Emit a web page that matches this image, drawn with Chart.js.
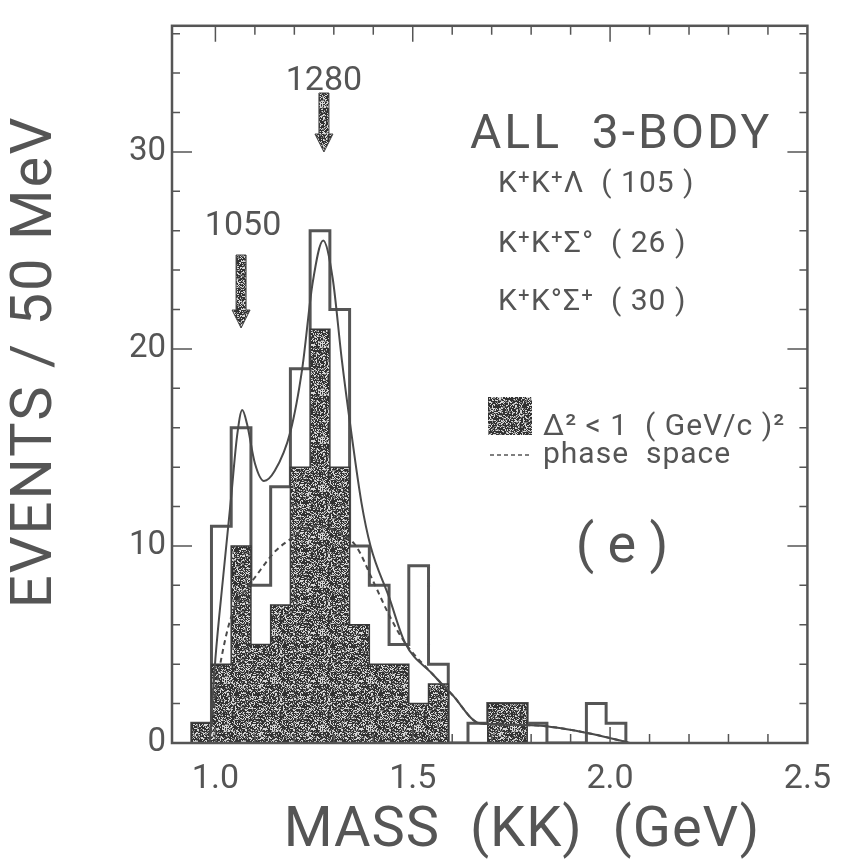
<!DOCTYPE html>
<html>
<head>
<meta charset="utf-8">
<script src="https://cdn.jsdelivr.net/npm/chart.js@4.4.1/dist/chart.umd.min.js"></script>
<style>
  html, body { margin: 0; padding: 0; background: #fff; }
  #wrap { width: 847px; height: 859px; }
</style>
</head>
<body>
<div id="wrap"><canvas id="massChart" width="847" height="859"></canvas></div>
<script>
// 50 MeV bins: lower edges, last entry is the upper edge of the last bin (GeV)
const massEdges = [0.94, 0.99, 1.04, 1.09, 1.14, 1.19, 1.24, 1.29, 1.34, 1.39, 1.44,
                   1.49, 1.54, 1.59, 1.64, 1.69, 1.74, 1.79, 1.84, 1.89, 1.94, 1.99, 2.04];
// all 3-body events (open histogram)
const allEvents = [1, 11, 16, 8, 13, 19, 26, 22, 10, 8, 5, 9, 4, 0, 1, 2, 2, 1, 0, 0, 2, 1];
// delta^2 < 1 (GeV/c)^2 (shaded histogram)
const lowDeltaEvents = [1, 4, 10, 5, 7, 14, 21, 14, 6, 4, 4, 2, 3, 0, 0, 2, 2, 0, 0, 0, 0, 0];

// fitted curve (solid)
const fitMass   = [0.985, 1.0, 1.02, 1.04, 1.055, 1.068, 1.08, 1.10, 1.123, 1.15, 1.19, 1.22, 1.246,
                   1.273, 1.297, 1.32, 1.344, 1.37, 1.393, 1.44, 1.48, 1.55, 1.60, 1.67, 1.80, 1.945, 2.05];
const fitEvents = [0, 4.3, 8.5, 12.5, 15.6, 16.9, 16.2, 14.2, 13.3, 13.8, 15.8, 19.0, 23.3,
                   25.5, 23.6, 19.5, 15.8, 12.2, 10.0, 7.4, 5.1, 3.5, 2.45, 1.0, 0.9, 0.5, 0];

// phase space (dashed)
const psMass   = [0.985, 1.0, 1.02, 1.04, 1.07, 1.10, 1.15, 1.18, 1.25, 1.30, 1.356, 1.40, 1.44,
                  1.48, 1.55, 1.60, 1.67, 1.80, 1.945, 2.05];
const psEvents = [0, 2.5, 4.8, 6.4, 7.6, 8.4, 9.7, 10.2, 11.0, 10.8, 10.0, 8.2, 6.5,
                  5.1, 3.5, 2.45, 1.0, 0.9, 0.5, 0];

// axis ticks
const xTickLabels = [1.0, 1.5, 2.0, 2.5];
const yTickLabels = [0, 10, 20, 30];
const xMinorTicks = [1.0, 1.1, 1.2, 1.3, 1.4, 1.5, 1.6, 1.7, 1.8, 1.9, 2.0, 2.1, 2.2, 2.3, 2.4];
const yMinorTicks = [2, 4, 6, 8, 10, 12, 14, 16, 18, 20, 22, 24, 26, 28, 30, 32, 34, 36];

// resonance markers
const peakMass  = [1.065, 1.275];
const peakNames = ['1050', '1280'];

const FONT = "Roboto, 'DejaVu Sans', sans-serif";
const INK = '#555';

// stepped histogram outline points from the bin edges
function histPoints(values) {
    const pts = [{ x: massEdges[0], y: 0 }];
    values.forEach((v, i) => pts.push({ x: massEdges[i], y: v }));
    pts.push({ x: massEdges[values.length], y: 0 });
    return pts;
}

function curvePoints(xs, ys) {
    return xs.map((m, i) => ({ x: m, y: ys[i] }));
}

// grainy grey fill like the printed shading
const canvas = document.getElementById('massChart');
const ctx = canvas.getContext('2d');
function stipple() {
    const c = document.createElement('canvas');
    c.width = c.height = 48;
    const g = c.getContext('2d');
    const img = g.createImageData(48, 48);
    let s = 12345;
    for (let i = 0; i < 48 * 48; i++) {
        s = (s * 1103515245 + 12345) & 0x7fffffff;
        const r = (s >> 8) % 100;
        const v = r < 26 ? 215 : (r < 44 ? 130 : 50);
        img.data[i * 4] = v; img.data[i * 4 + 1] = v; img.data[i * 4 + 2] = v; img.data[i * 4 + 3] = 255;
    }
    g.putImageData(img, 0, 0);
    return ctx.createPattern(c, 'repeat');
}
const shade = stipple();

function arrow(c, x, y0, y1) {
    c.save();
    c.fillStyle = shade;
    c.strokeStyle = '#444';
    c.lineWidth = 1;
    c.beginPath();
    c.moveTo(x - 5, y0);
    c.lineTo(x + 5, y0);
    c.lineTo(x + 5, y1 - 18);
    c.lineTo(x + 9, y1 - 18);
    c.lineTo(x, y1);
    c.lineTo(x - 9, y1 - 18);
    c.lineTo(x - 5, y1 - 18);
    c.closePath();
    c.fill();
    c.stroke();
    c.restore();
}

const decorations = {
    id: 'decorations',
    afterDatasetsDraw(chart) {
        const { ctx: c, chartArea: a, scales: { x, y } } = chart;
        c.save();
        // frame
        c.strokeStyle = '#555';
        c.lineWidth = 2.5;
        c.strokeRect(a.left, a.top, a.right - a.left, a.bottom - a.top);
        // inward ticks
        c.lineWidth = 1.5;
        c.beginPath();
        yMinorTicks.forEach(v => {
            const py = y.getPixelForValue(v);
            const len = v % 10 === 0 ? 20 : 8;
            c.moveTo(a.left, py); c.lineTo(a.left + len, py);
            c.moveTo(a.right, py); c.lineTo(a.right - len, py);
        });
        xMinorTicks.forEach(v => {
            const px = x.getPixelForValue(v);
            const major = Math.abs(v * 2 - Math.round(v * 2)) < 1e-6;
            c.moveTo(px, a.top); c.lineTo(px, a.top + (major ? 16 : 9));
            c.moveTo(px, a.bottom); c.lineTo(px, a.bottom - (major ? 16 : 9));
        });
        c.stroke();

        c.fillStyle = INK;
        c.textBaseline = 'alphabetic';
        // resonance arrows
        c.textAlign = 'center';
        c.font = `34px ${FONT}`;
        c.fillText(peakNames[1], x.getPixelForValue(peakMass[1]), 90);
        arrow(c, x.getPixelForValue(peakMass[1]), 93, 152);
        c.fillStyle = INK;
        c.fillText(peakNames[0], x.getPixelForValue(peakMass[0]) + 2, 235);
        arrow(c, x.getPixelForValue(peakMass[0]), 255, 328);

        // title block
        c.fillStyle = INK;
        c.textAlign = 'left';
        c.font = `48px ${FONT}`;
        c.letterSpacing = '3px';
        c.fillText('ALL  3-BODY', 470, 148);
        c.letterSpacing = '1px';
        c.font = `30px ${FONT}`;
        c.fillText('K\u207AK\u207A\u039B  ( 105 )', 498, 192);
        c.fillText('K\u207AK\u207A\u03A3\u00B0  ( 26 )', 498, 252);
        c.fillText('K\u207AK\u00B0\u03A3\u207A  ( 30 )', 498, 310);

        // legend
        c.fillStyle = shade;
        c.fillRect(488, 397, 44, 38);
        c.fillStyle = INK;
        c.fillText('\u0394\u00B2 < 1  ( GeV/c )\u00B2', 543, 435);
        c.strokeStyle = '#555';
        c.lineWidth = 1.5;
        c.setLineDash([4, 3]);
        c.beginPath();
        c.moveTo(490, 455); c.lineTo(530, 455);
        c.stroke();
        c.setLineDash([]);
        c.fillText('phase  space', 543, 463);

        c.letterSpacing = '0px';
        c.font = `54px ${FONT}`;
        c.textAlign = 'center';
        c.fillText('( e )', 622, 562);

        // axis titles
        c.textBaseline = 'middle';
        c.font = `56px ${FONT}`;
        c.letterSpacing = '1px';
        c.fillText('MASS  (KK)  (GeV)', 522, 832);
        c.translate(36, 362);
        c.rotate(-Math.PI / 2);
        c.font = `58px ${FONT}`;
        c.letterSpacing = '2px';
        c.fillText('EVENTS / 50 MeV', 0, 0);
        c.restore();
    }
};

new Chart(ctx, {
    type: 'line',
    data: {
        datasets: [
            {
                label: 'fit',
                data: curvePoints(fitMass, fitEvents),
                borderColor: '#4a4a4a',
                borderWidth: 2,
                cubicInterpolationMode: 'monotone',
                pointRadius: 0,
                fill: false
            },
            {
                label: 'phase space',
                data: curvePoints(psMass, psEvents),
                borderColor: '#4a4a4a',
                borderWidth: 2,
                borderDash: [5, 4],
                cubicInterpolationMode: 'monotone',
                pointRadius: 0,
                fill: false
            },
            {
                label: '\u0394\u00B2 < 1 (GeV/c)\u00B2',
                data: histPoints(lowDeltaEvents),
                stepped: 'before',
                borderColor: '#3a3a3a',
                borderWidth: 1.5,
                backgroundColor: shade,
                pointRadius: 0,
                fill: 'origin'
            },
            {
                label: 'all 3-body',
                data: histPoints(allEvents),
                stepped: 'before',
                borderColor: '#555',
                borderWidth: 3,
                pointRadius: 0,
                fill: false
            }
        ]
    },
    options: {
        responsive: false,
        animation: false,
        devicePixelRatio: 1,
        layout: { padding: { top: 8, right: 21, left: 0, bottom: 0 } },
        plugins: { legend: { display: false }, tooltip: { enabled: false } },
        scales: {
            x: {
                type: 'linear',
                min: 0.89,
                max: 2.5,
                afterFit: s => { s.height = 116; },
                afterBuildTicks: s => { s.ticks = xTickLabels.map(v => ({ value: v })); },
                grid: { display: false, drawTicks: false },
                border: { display: false },
                ticks: {
                    color: INK,
                    padding: 16,
                    maxRotation: 0,
                    font: { family: FONT, size: 34 },
                    callback: v => v.toFixed(1)
                }
            },
            y: {
                min: 0,
                max: 36.4,
                afterFit: s => { s.width = 172; },
                afterBuildTicks: s => { s.ticks = yTickLabels.map(v => ({ value: v })); },
                grid: { display: false, drawTicks: false },
                border: { display: false },
                ticks: {
                    color: INK,
                    padding: 6,
                    font: { family: FONT, size: 33 }
                }
            }
        }
    },
    plugins: [decorations]
});
</script>
</body>
</html>
